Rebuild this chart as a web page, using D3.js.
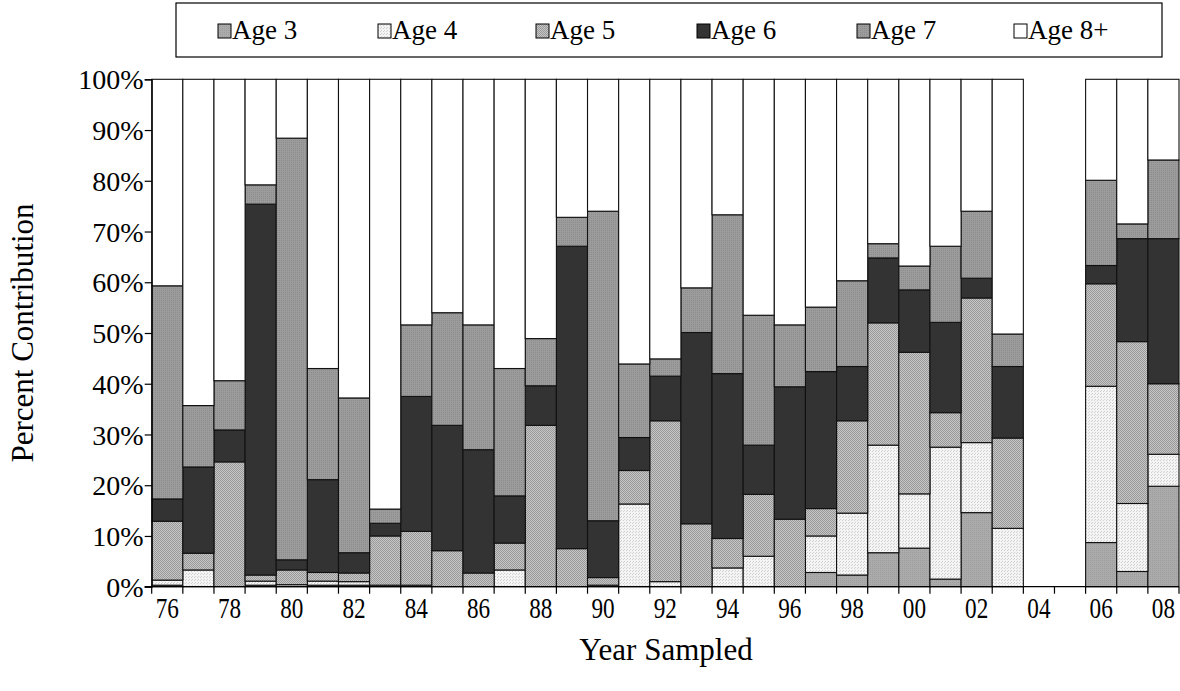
<!DOCTYPE html>
<html><head><meta charset="utf-8">
<script src="https://cdn.jsdelivr.net/npm/d3@7"></script>
<style>
html,body{margin:0;padding:0;background:#fff;}
svg text{font-family:"Liberation Serif","Times New Roman",serif;fill:#000;}
</style></head>
<body>
<svg id="chart" width="1180" height="691"></svg>
<script>
const years = ["76","77","78","79","80","81","82","83","84","85","86","87","88","89","90","91","92","93","94","95","96","97","98","99","00","01","02","03","04","05","06","07","08"];
const age3 = [0.3,0,0,0.3,0,0.3,0.3,0,0,0,0,0,0,0,0,0,0,0,0,0,0,2.8,2.3,6.7,7.6,1.5,14.6,0,null,null,8.7,3.0,19.8];
const age4 = [1.0,3.3,0,0.8,0.4,0.8,0.7,0.3,0.3,0,0,3.3,0,0,0.3,16.3,1.0,0,3.7,6.0,0,7.2,12.2,21.2,10.7,26.0,13.8,11.5,null,null,30.8,13.4,6.3];
const age5 = [11.6,3.3,24.6,1.2,2.9,1.7,1.7,9.7,10.6,7.1,2.7,5.3,31.8,7.5,1.5,6.6,31.7,12.4,5.8,12.2,13.3,5.4,18.2,24.1,27.9,6.8,28.5,17.8,null,null,20.2,31.9,13.9];
const age6 = [4.4,17.0,6.3,73.1,2.0,18.3,4.0,2.5,26.6,24.7,24.3,9.3,7.8,59.6,11.2,6.5,8.8,37.7,32.5,9.7,26.1,27.0,10.7,12.8,12.3,17.8,3.9,14.1,null,null,3.6,20.3,28.6];
const age7 = [42.0,12.1,9.7,3.8,83.1,21.9,30.5,2.8,14.1,22.2,24.6,25.1,9.3,5.7,61.0,14.5,3.4,8.8,31.3,25.6,12.2,12.7,16.9,2.8,4.7,15.0,13.2,6.4,null,null,16.8,2.9,15.5];
const age8 = [40.7,64.3,59.4,20.8,11.6,57.0,62.8,84.7,48.4,46.0,48.4,57.0,51.1,27.2,26.0,56.1,55.1,41.1,26.7,46.5,48.4,44.9,39.7,32.4,36.8,32.9,26.0,50.2,null,null,19.9,28.5,15.9];
const seriesNames = ["Age 3","Age 4","Age 5","Age 6","Age 7","Age 8+"];
const yTicks = [0,10,20,30,40,50,60,70,80,90,100];

const svg = d3.select("#chart");
const defs = svg.append("defs");
function dotPattern(id, base, dot, size, pts){
  const p = defs.append("pattern").attr("id",id).attr("patternUnits","userSpaceOnUse")
    .attr("width",size).attr("height",size);
  p.append("rect").attr("width",size).attr("height",size).attr("fill",base);
  pts.forEach(([px,py])=>p.append("rect").attr("x",px).attr("y",py).attr("width",1).attr("height",1).attr("fill",dot));
}
dotPattern("p3","#ababab","#9d9d9d",2,[[0,0]]);
dotPattern("p4","#f4f4f4","#d0d0d0",3,[[0,0],[2,1]]);
dotPattern("p5","#c6c6c6","#999999",2,[[0,0],[1,1]]);
dotPattern("p7","#9c9c9c","#8c8c8c",2,[[1,0]]);
const fills = ["url(#p3)","url(#p4)","url(#p5)","#333333","url(#p7)","#ffffff"];

const plotLeft = 151.7, plotRight = 1179, plotTop = 79.3, plotBottom = 586.7;
const x = d3.scaleBand().domain(years).range([plotLeft,plotRight]).padding(0);
const y = d3.scaleLinear().domain([0,100]).range([plotBottom,plotTop]);

const rows = years.map((yr,i)=>({year:yr, "Age 3":age3[i],"Age 4":age4[i],"Age 5":age5[i],"Age 6":age6[i],"Age 7":age7[i],"Age 8+":age8[i]}));
const valid = rows.filter(r=>r["Age 3"]!==null);
const stacked = d3.stack().keys(seriesNames)(valid);

const g = svg.append("g");
stacked.forEach((s,si)=>{
  g.append("g").selectAll("rect").data(s).join("rect")
    .attr("x",d=>x(d.data.year))
    .attr("width",x.bandwidth())
    .attr("y",d=>y(d[1]))
    .attr("height",d=>Math.max(0,y(d[0])-y(d[1])))
    .attr("fill",fills[si])
    .attr("stroke","#111")
    .attr("stroke-width",1.1);
});

// y axis
const yAxis = d3.axisLeft(y).tickValues(yTicks).tickFormat(d=>d+"%").tickSize(7).tickPadding(1);
const ya = svg.append("g").attr("transform",`translate(${plotLeft},0)`).call(yAxis);
ya.select(".domain").attr("stroke","#000").attr("stroke-width",1.2);
ya.selectAll(".tick line").attr("stroke","#000").attr("stroke-width",1.2);
ya.selectAll("text").style("font-size","28px").attr("dy","0.34em");

// x axis baseline and boundary ticks
svg.append("line").attr("x1",plotLeft-7).attr("x2",plotRight).attr("y1",plotBottom).attr("y2",plotBottom)
  .attr("stroke","#000").attr("stroke-width",1.2);
const bounds = years.map(d=>x(d)).concat([plotRight]);
svg.append("g").selectAll("line").data(bounds).join("line")
  .attr("x1",d=>d).attr("x2",d=>d).attr("y1",plotBottom).attr("y2",plotBottom+7)
  .attr("stroke","#000").attr("stroke-width",1.2);
const xAxis = d3.axisBottom(x).tickValues(years.filter((d,i)=>i%2===0)).tickSize(0).tickFormat(d=>d);
const xa = svg.append("g").attr("transform",`translate(0,${plotBottom})`).call(xAxis);
xa.select(".domain").remove();
xa.selectAll(".tick text").attr("y",0).attr("dy",0)
  .attr("transform","translate(0,31) scale(0.8,1)")
  .style("font-size","29px");

// axis titles
svg.append("text").attr("transform","translate(33,333) rotate(-90)").attr("text-anchor","middle")
  .style("font-size","31px").text("Percent Contribution");
svg.append("text").attr("x",666).attr("y",660).attr("text-anchor","middle")
  .style("font-size","31px").text("Year Sampled");

// legend
svg.append("rect").attr("x",176).attr("y",3).attr("width",986).attr("height",54)
  .attr("fill","#fff").attr("stroke","#000").attr("stroke-width",1.2);
const legX = [218,378,536,697,857,1014];
const lg = svg.append("g").selectAll("g").data(seriesNames).join("g")
  .attr("transform",(d,i)=>`translate(${legX[i]},0)`);
lg.append("rect").attr("x",0).attr("y",24).attr("width",13).attr("height",14)
  .attr("fill",(d,i)=>fills[i]).attr("stroke","#000").attr("stroke-width",1);
lg.append("text").attr("x",14).attr("y",39).style("font-size","27px").text(d=>d);
</script>
</body></html>
